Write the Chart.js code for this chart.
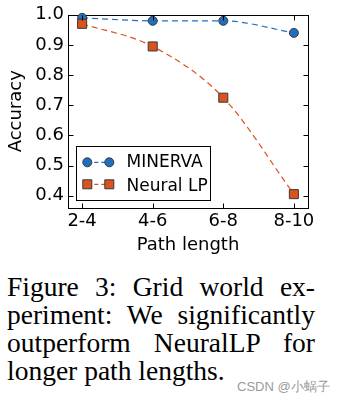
<!DOCTYPE html>
<html><head><meta charset="utf-8">
<script src="https://cdn.jsdelivr.net/npm/chart.js@4.4.0/dist/chart.umd.min.js"></script>
<style>
html,body{margin:0;padding:0;background:#fff}
body{width:351px;height:402px;overflow:hidden;position:relative}
#wrap{position:absolute;left:0;top:0;width:351px;height:262px}
.cap{position:absolute;left:7px;width:308px;height:28px;font-family:"Liberation Serif",serif;font-size:27.5px;line-height:28px;color:#000;text-align:justify;text-align-last:justify}
.last{text-align:left;text-align-last:left}
#wm{position:absolute;left:237px;top:377.5px;font-family:"Liberation Sans",Arial,sans-serif;font-size:13px;line-height:17px;color:#9a9a9a;white-space:nowrap}
</style></head><body>
<div id="wrap"><canvas id="c"></canvas></div>
<div class="cap" style="top:273.4px">Figure 3: Grid world ex-</div>
<div class="cap" style="top:301.4px">periment: We significantly</div>
<div class="cap" style="top:329.4px">outperform NeuralLP for</div>
<div class="cap last" style="top:357.4px">longer path lengths.</div>
<div id="wm">CSDN @小蜗子</div>
<script>
const categories = ['2-4', '4-6', '6-8', '8-10'];
const minervaAcc = [0.99, 0.98, 0.98, 0.94];
const neuralLPAcc = [0.97, 0.895, 0.725, 0.405];
const yTicks = [0.4, 0.5, 0.6, 0.7, 0.8, 0.9, 1.0];
const yTickLabels = ['0.4', '0.5', '0.6', '0.7', '0.8', '0.9', '1.0'];
const seriesNames = ['MINERVA', 'Neural LP'];

const BLUE = '#1f6fbf';
const ORANGE = '#d9531e';
const EDGE = '#3a3a3a';

Chart.defaults.font.family = 'DejaVu Sans';
Chart.defaults.color = '#000';

const frame = {
  id: 'frame',
  beforeDatasetsDraw(chart) {
    const {ctx, chartArea: a} = chart;
    ctx.save();
    ctx.strokeStyle = '#000';
    ctx.lineWidth = 1;
    ctx.strokeRect(Math.round(a.left) + 0.5, Math.round(a.top) + 0.5,
      Math.round(a.right) - Math.round(a.left), Math.round(a.bottom) - Math.round(a.top));
    ctx.restore();
  },
  afterDatasetsDraw(chart) {
    const {ctx, chartArea: a, scales} = chart;
    ctx.save();
    ctx.strokeStyle = '#000';
    ctx.lineWidth = 1;
    const L = 5;
    const l = Math.round(a.left) + 0.5, r = Math.round(a.right) + 0.5;
    const t = Math.round(a.top) + 0.5, b = Math.round(a.bottom) + 0.5;
    ctx.beginPath();
    yTicks.forEach(v => {
      const y = Math.round(scales.y.getPixelForValue(v)) + 0.5;
      ctx.moveTo(l, y); ctx.lineTo(l + L, y);
      ctx.moveTo(r, y); ctx.lineTo(r - L, y);
    });
    categories.forEach((c, i) => {
      const x = Math.round(scales.x.getPixelForValue(i)) + 0.5;
      ctx.moveTo(x, b); ctx.lineTo(x, b - L);
      ctx.moveTo(x, t); ctx.lineTo(x, t + L);
    });
    ctx.stroke();

    // legend
    const bx = 76.5, by = 146.5, bw = 134, bh = 54;
    ctx.fillStyle = '#fff';
    ctx.fillRect(bx, by, bw, bh);
    ctx.strokeRect(bx, by, bw, bh);
    const rows = [
      {name: seriesNames[0], color: BLUE, shape: 'circle', y: 162.3, base: 167.3},
      {name: seriesNames[1], color: ORANGE, shape: 'rect', y: 184.3, base: 190.5}
    ];
    const mx = [87.3, 109.3];
    rows.forEach(rw => {
      ctx.save();
      ctx.strokeStyle = rw.color;
      ctx.lineWidth = 1.2;
      ctx.setLineDash([4, 3]);
      ctx.beginPath();
      ctx.moveTo(mx[0], rw.y); ctx.lineTo(mx[1], rw.y);
      ctx.stroke();
      ctx.restore();
      mx.forEach(x => {
        ctx.beginPath();
        if (rw.shape === 'circle') ctx.arc(x, rw.y, 4.5, 0, Math.PI * 2);
        else ctx.rect(x - 4.5, rw.y - 4.5, 9, 9);
        ctx.fillStyle = rw.color; ctx.fill();
        ctx.strokeStyle = EDGE; ctx.lineWidth = 1; ctx.stroke();
      });
      ctx.fillStyle = '#000';
      ctx.font = '17px "DejaVu Sans"';
      ctx.textBaseline = 'alphabetic';
      ctx.textAlign = 'left';
      ctx.fillText(rw.name, 126.5, rw.base);
    });
    ctx.restore();
  }
};

new Chart(document.getElementById('c'), {
  type: 'line',
  data: {
    datasets: [
      {
        label: seriesNames[0],
        data: minervaAcc.map((v, i) => ({x: i, y: v})),
        borderColor: BLUE, borderWidth: 1.2, borderDash: [6, 4],
        backgroundColor: BLUE,
        pointStyle: 'circle', pointRadius: 4.5, pointBorderColor: EDGE,
        pointBorderWidth: 1, pointBackgroundColor: BLUE,
        cubicInterpolationMode: 'monotone', clip: false, order: 1
      },
      {
        label: seriesNames[1],
        data: neuralLPAcc.map((v, i) => ({x: i, y: v})),
        borderColor: ORANGE, borderWidth: 1.2, borderDash: [6, 4],
        backgroundColor: ORANGE,
        pointStyle: 'rect', pointRadius: 6.4, pointBorderColor: EDGE,
        pointBorderWidth: 1, pointBackgroundColor: ORANGE,
        cubicInterpolationMode: 'monotone', clip: false, order: 0
      }
    ]
  },
  options: {
    responsive: true, maintainAspectRatio: false, animation: false,
    devicePixelRatio: 1,
    layout: {padding: {left: 0, top: 12.7, right: 43, bottom: 0}},
    plugins: {legend: {display: false}, tooltip: {enabled: false}},
    scales: {
      x: {
        type: 'linear', min: -0.2, max: 3.2,
        afterBuildTicks: s => { s.ticks = categories.map((c, i) => ({value: i})); },
        afterFit: s => { s.height = 54.3; },
        ticks: {callback: (v, i) => categories[i], font: {size: 18}, color: '#000', padding: 3, maxRotation: 0, autoSkip: false},
        grid: {display: false, drawTicks: false},
        border: {display: false},
        title: {display: true, text: 'Path length', font: {size: 18}, color: '#000', padding: {top: 0, bottom: 6}}
      },
      y: {
        min: 0.36, max: 1.0,
        afterBuildTicks: s => { s.ticks = yTicks.map(v => ({value: v})); },
        afterFit: s => { s.width = 68; },
        ticks: {callback: (v, i) => yTickLabels[i], font: {size: 18}, color: '#000', padding: 4, autoSkip: false},
        grid: {display: false, drawTicks: false},
        border: {display: false},
        title: {display: true, text: 'Accuracy', font: {size: 18}, color: '#000', padding: {top: 6, bottom: 0}}
      }
    }
  },
  plugins: [frame]
});
</script>
</body></html>
